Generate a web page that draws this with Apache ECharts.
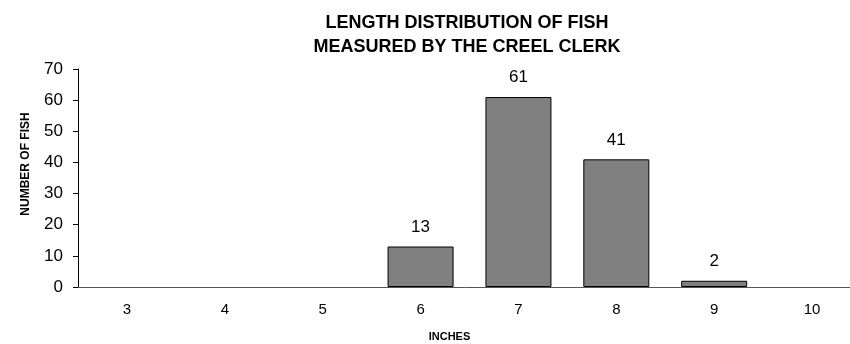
<!DOCTYPE html>
<html>
<head>
<meta charset="utf-8">
<script src="https://cdn.jsdelivr.net/npm/echarts@6/dist/echarts.min.js"></script>
<style>
  html, body { margin: 0; padding: 0; background: #fff; }
  #chart { width: 850px; height: 344px; }
</style>
</head>
<body>
<div id="chart"></div>
<script>
// fish lengths in inches and how many were measured
var inches = ['3', '4', '5', '6', '7', '8', '9', '10']
var fishCount = [0, 0, 0, 13, 61, 41, 2, 0]
var yTicks = { min: 0, max: 70, step: 10 }

var myChart = echarts.init(document.getElementById('chart'))
var font = 'Liberation Sans, Arial, sans-serif'
var option = {
  animation: false,
  title: {
    text: 'LENGTH DISTRIBUTION OF FISH\nMEASURED BY THE CREEL CLERK',
    left: 462,
    textAlign: 'center',
    top: 6,
    textStyle: {
      fontFamily: font,
      fontSize: 18,
      fontWeight: 'bold',
      color: '#000',
      lineHeight: 24
    }
  },
  grid: {
    left: 78,
    right: -11,
    top: 69,
    bottom: 57,
    outerBoundsMode: 'none'
  },
  xAxis: {
    type: 'category',
    data: inches,
    name: 'INCHES',
    nameLocation: 'middle',
    nameGap: 44,
    nameTextStyle: {
      fontFamily: font,
      fontSize: 11,
      fontWeight: 'bold',
      color: '#000',
      padding: [0, 40, 0, 0]
    },
    axisLine: { lineStyle: { color: '#555', width: 1 } },
    axisTick: { inside: true, length: 5, lineStyle: { color: '#000' } },
    axisLabel: { fontFamily: font, fontSize: 15, color: '#000', margin: 15 }
  },
  yAxis: {
    type: 'value',
    min: yTicks.min,
    max: yTicks.max,
    interval: yTicks.step,
    name: 'NUMBER OF FISH',
    nameLocation: 'middle',
    nameGap: 46,
    nameTextStyle: {
      fontFamily: font,
      fontSize: 12,
      fontWeight: 'bold',
      color: '#000',
      padding: [0, 0, 0, 28]
    },
    splitLine: { show: false },
    axisLine: { show: true, lineStyle: { color: '#000', width: 1 } },
    axisTick: { show: true, length: 5, lineStyle: { color: '#000' } },
    axisLabel: { fontFamily: font, fontSize: 17, color: '#000', margin: 15 }
  },
  series: [
    {
      type: 'bar',
      // empty size classes draw nothing
      data: fishCount.map(function (v) { return v === 0 ? '-' : v }),
      barWidth: 66,
      itemStyle: { color: '#808080', borderColor: '#000', borderWidth: 1 },
      label: {
        show: true,
        position: 'top',
        distance: 11,
        fontFamily: font,
        fontSize: 17,
        color: '#000'
      }
    }
  ]
}
myChart.setOption(option)
</script>
</body>
</html>
